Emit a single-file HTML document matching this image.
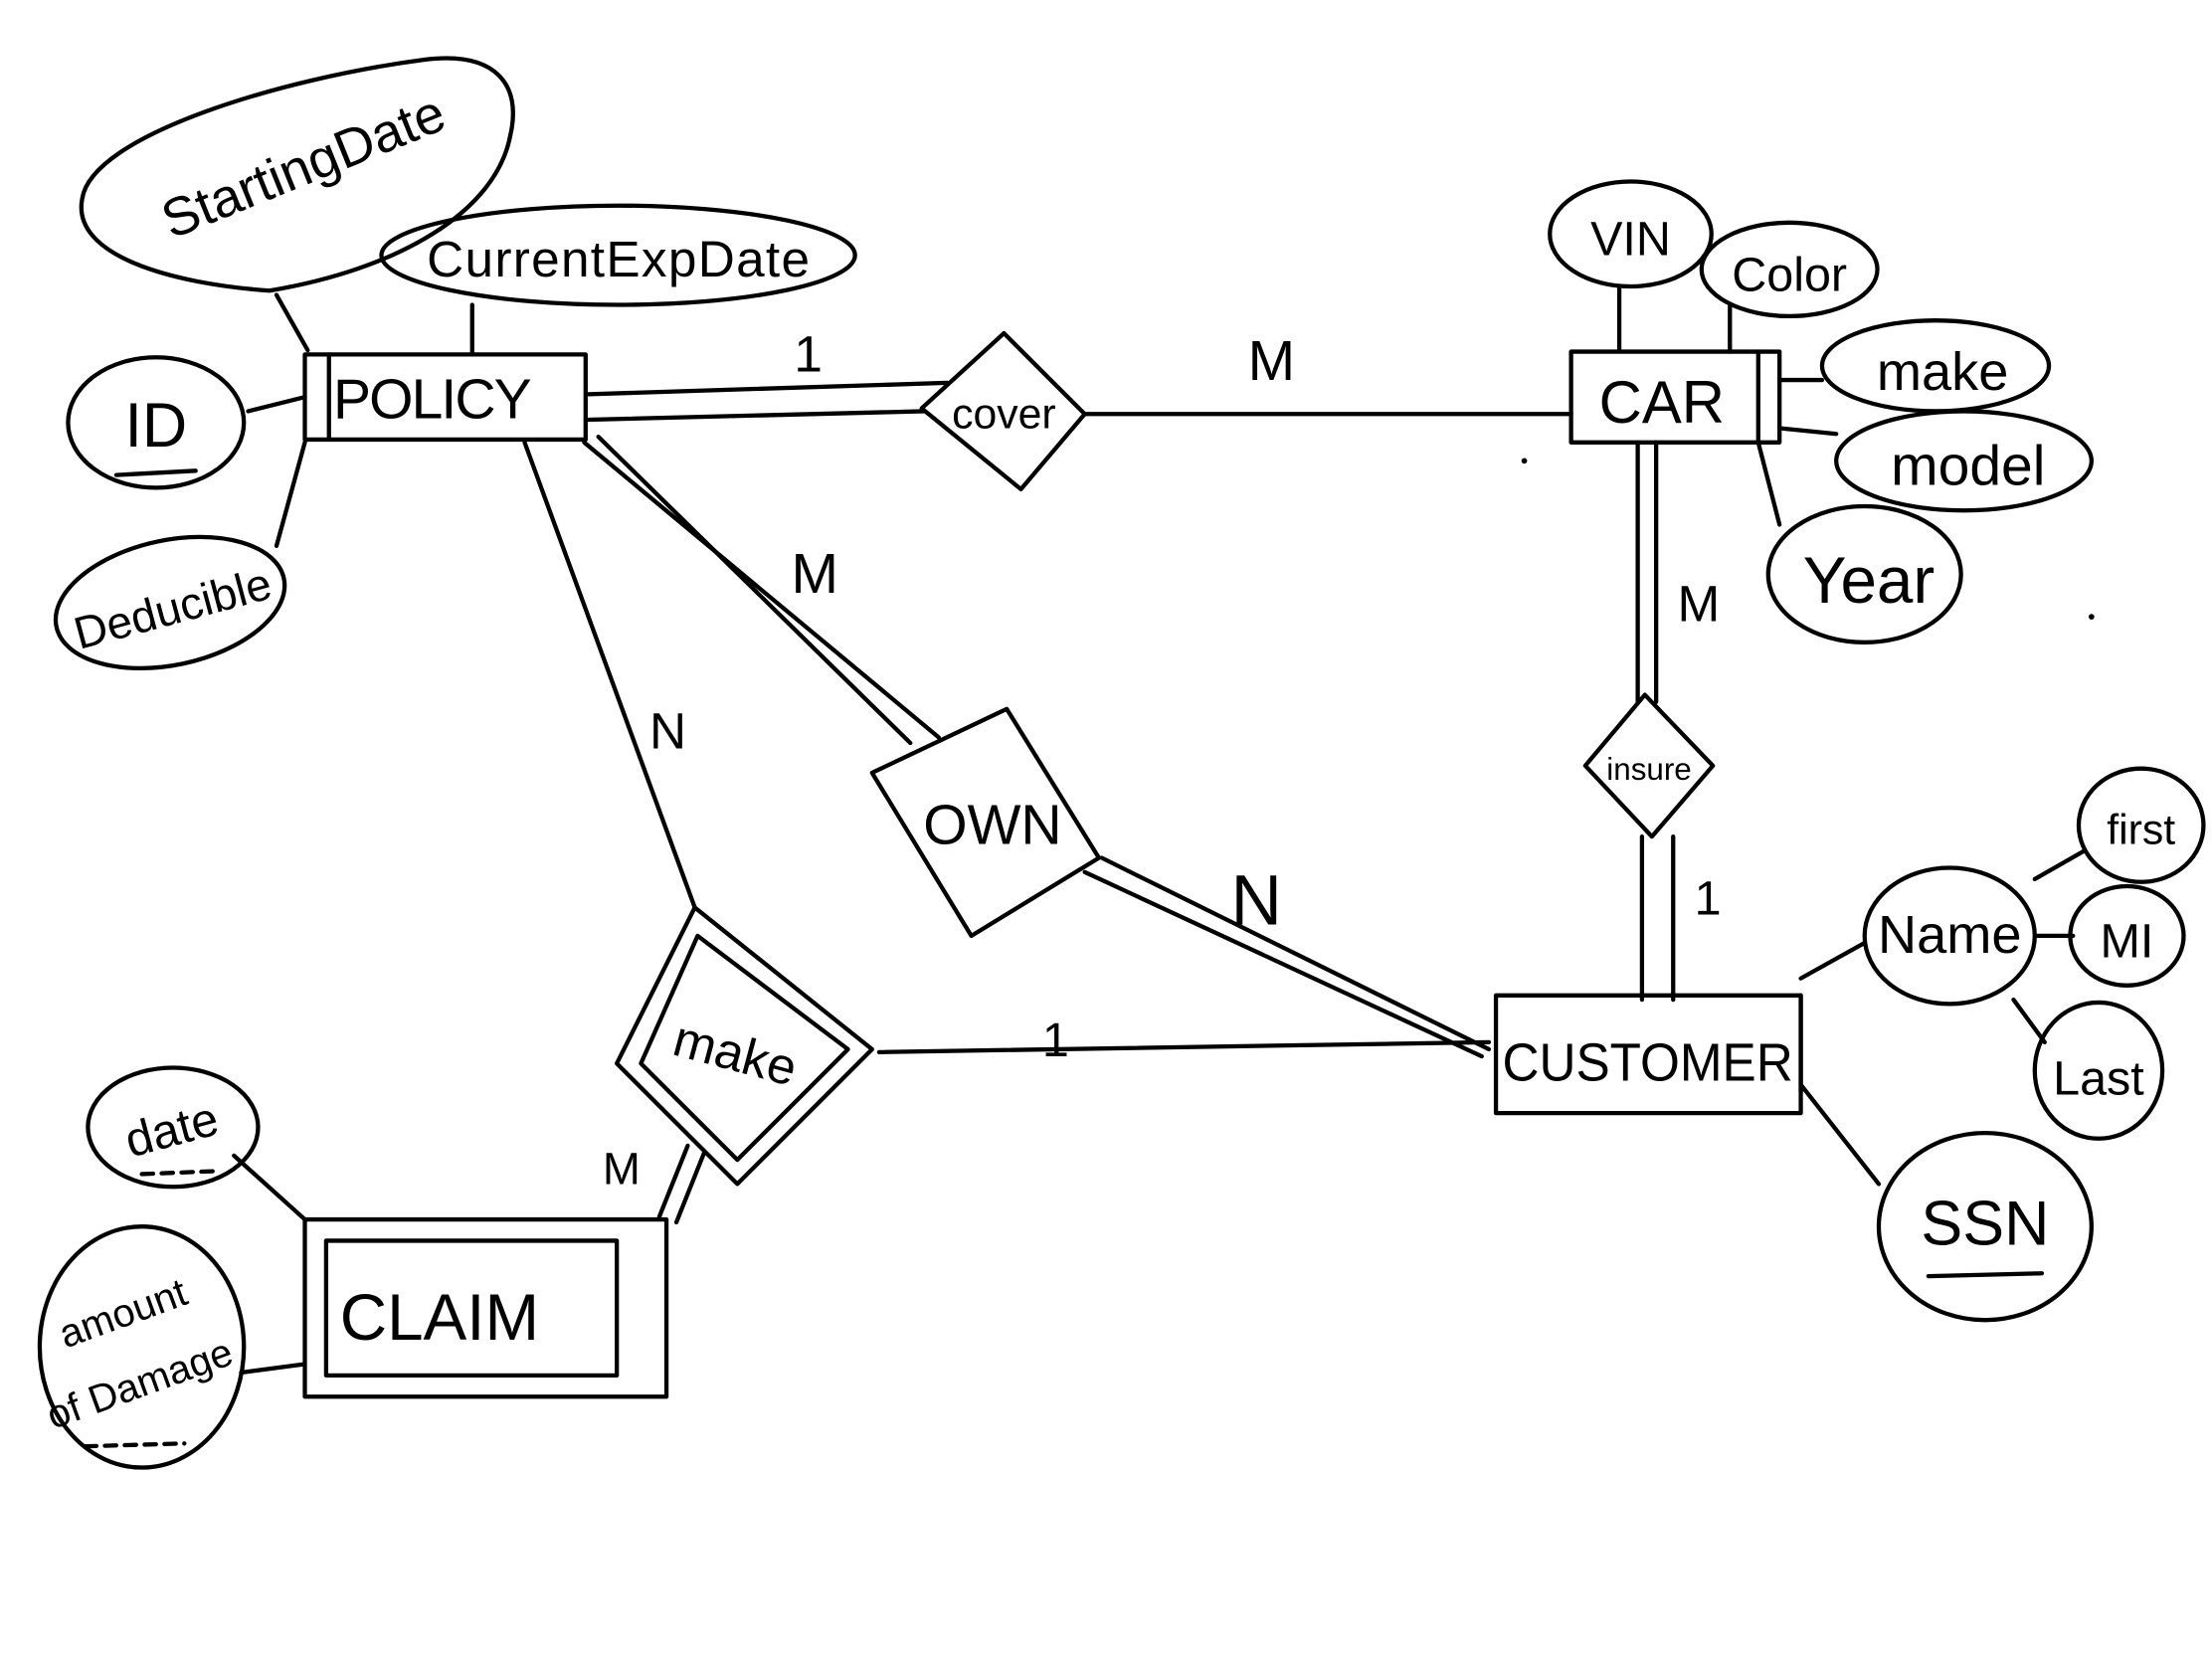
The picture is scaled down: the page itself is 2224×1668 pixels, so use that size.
<!DOCTYPE html>
<html><head><meta charset="utf-8"><style>
html,body{margin:0;padding:0;background:#fff}
svg{display:block}
text{font-family:"Liberation Sans",sans-serif;fill:#000}
</style></head><body>
<svg width="2224" height="1668" viewBox="0 0 1560 1170" xmlns="http://www.w3.org/2000/svg">
<g fill="none" stroke="#000" stroke-width="3" stroke-linecap="round" stroke-linejoin="round">
<path d="M190,205 C120,200 50,180 58,140 C65,95 200,55 300,42 C350,36 368,60 360,95 C350,150 280,190 190,205 Z"/>
<ellipse cx="436" cy="180" rx="167" ry="35"/>
<rect x="215" y="250" width="198" height="60"/>
<line x1="232" y1="250" x2="232" y2="310"/>
<ellipse cx="110" cy="298" rx="62" ry="46"/>
<ellipse cx="120" cy="425" rx="82" ry="44" transform="rotate(-12 120 425)"/>
<line x1="175" y1="290" x2="215" y2="280"/>
<line x1="195" y1="385" x2="215" y2="312"/>
<line x1="195" y1="208" x2="217" y2="247"/>
<line x1="333" y1="215" x2="333" y2="250"/>
<polygon points="708,235 765,292 720,345 650,288"/>
<line x1="415" y1="278" x2="668" y2="270"/>
<line x1="415" y1="296" x2="652" y2="290"/>
<line x1="765" y1="292" x2="1108" y2="292"/>
<rect x="1108" y="248" width="147" height="64"/>
<line x1="1240" y1="248" x2="1240" y2="312"/>
<ellipse cx="1150" cy="165" rx="57" ry="37"/>
<ellipse cx="1262" cy="190" rx="62" ry="33"/>
<ellipse cx="1365" cy="258" rx="80" ry="32"/>
<ellipse cx="1385" cy="325" rx="90" ry="35"/>
<ellipse cx="1315" cy="405" rx="68" ry="48"/>
<line x1="1142" y1="203" x2="1142" y2="246"/>
<line x1="1220" y1="216" x2="1220" y2="248"/>
<line x1="1255" y1="268" x2="1285" y2="268"/>
<line x1="1255" y1="302" x2="1295" y2="306"/>
<line x1="1240" y1="312" x2="1255" y2="370"/>
<line x1="1155" y1="312" x2="1155" y2="495"/>
<line x1="1168" y1="312" x2="1168" y2="495"/>
<polygon points="1160,490 1208,540 1165,590 1118,540"/>
<line x1="1158" y1="590" x2="1158" y2="705"/>
<line x1="1180" y1="590" x2="1180" y2="705"/>
<rect x="1055" y="702" width="215" height="83"/>
<line x1="1270" y1="702" x2="1270" y2="770"/>
<ellipse cx="1375" cy="660" rx="60" ry="48"/>
<ellipse cx="1510" cy="582" rx="44" ry="40"/>
<ellipse cx="1500" cy="660" rx="40" ry="35"/>
<ellipse cx="1480" cy="755" rx="45" ry="48"/>
<ellipse cx="1400" cy="865" rx="75" ry="66"/>
<line x1="1270" y1="690" x2="1315" y2="665"/>
<line x1="1435" y1="620" x2="1470" y2="600"/>
<line x1="1437" y1="660" x2="1462" y2="660"/>
<line x1="1420" y1="705" x2="1442" y2="735"/>
<line x1="1270" y1="765" x2="1325" y2="835"/>
<polygon points="615,545 710,500 775,605 685,660"/>
<line x1="412" y1="312" x2="662" y2="520"/>
<line x1="422" y1="308" x2="642" y2="524"/>
<line x1="765" y1="615" x2="1045" y2="745"/>
<line x1="777" y1="605" x2="1050" y2="740"/>
<line x1="370" y1="312" x2="490" y2="640"/>
<polygon points="490,640 615,740 520,835 435,750"/>
<polygon points="492,660 598,740 520,818 452,750"/>
<line x1="620" y1="742" x2="1050" y2="735"/>
<line x1="465" y1="858" x2="485" y2="808"/>
<line x1="477" y1="862" x2="497" y2="812"/>
<rect x="215" y="860" width="255" height="125"/>
<rect x="230" y="875" width="205" height="95"/>
<ellipse cx="122" cy="795" rx="60" ry="42"/>
<line x1="165" y1="815" x2="215" y2="860"/>
<ellipse cx="100" cy="950" rx="72" ry="85"/>
<line x1="170" y1="968" x2="215" y2="962"/>
<line x1="82" y1="335" x2="138" y2="332"/>
<line x1="1360" y1="900" x2="1440" y2="898"/>
<line x1="100" y1="828" x2="150" y2="826" stroke-dasharray="8 6"/>
<line x1="60" y1="1020" x2="130" y2="1018" stroke-dasharray="8 6"/>
</g>
<circle cx="1075" cy="325" r="2" fill="#000"/>
<circle cx="1475" cy="435" r="2" fill="#000"/>
<g font-size="34">
<text x="215" y="130" transform="rotate(-22 215 120)" text-anchor="middle" font-size="38">StartingDate</text>
<text x="436" y="195" text-anchor="middle" font-size="36" textLength="270">CurrentExpDate</text>
<text x="305" y="295" text-anchor="middle" font-size="40" textLength="140">POLICY</text>
<text x="110" y="315" text-anchor="middle" font-size="44">ID</text>
<text x="122" y="440" text-anchor="middle" font-size="32" transform="rotate(-15 122 430)">Deducible</text>
<text x="708" y="302" text-anchor="middle" font-size="30">cover</text>
<text x="1172" y="298" text-anchor="middle" font-size="42">CAR</text>
<text x="1150" y="180" text-anchor="middle" font-size="34">VIN</text>
<text x="1262" y="205" text-anchor="middle" font-size="34">Color</text>
<text x="1370" y="275" text-anchor="middle" font-size="38">make</text>
<text x="1388" y="342" text-anchor="middle" font-size="40">model</text>
<text x="1318" y="425" text-anchor="middle" font-size="46">Year</text>
<text x="1163" y="550" text-anchor="middle" font-size="22">insure</text>
<text x="1162" y="762" text-anchor="middle" font-size="38" textLength="205" lengthAdjust="spacingAndGlyphs">CUSTOMER</text>
<text x="1375" y="672" text-anchor="middle" font-size="38">Name</text>
<text x="1510" y="595" text-anchor="middle" font-size="30">first</text>
<text x="1500" y="675" text-anchor="middle" font-size="34">MI</text>
<text x="1480" y="772" text-anchor="middle" font-size="34">Last</text>
<text x="1400" y="878" text-anchor="middle" font-size="44">SSN</text>
<text x="700" y="595" text-anchor="middle" font-size="40">OWN</text>
<text x="518" y="755" text-anchor="middle" font-size="36" transform="rotate(15 518 745)">make</text>
<text x="310" y="945" text-anchor="middle" font-size="46">CLAIM</text>
<text x="122" y="808" text-anchor="middle" font-size="34" transform="rotate(-15 122 800)">date</text>
<text x="90" y="935" text-anchor="middle" font-size="28" transform="rotate(-20 90 935)">amount</text>
<text x="100" y="985" text-anchor="middle" font-size="28" transform="rotate(-20 100 980)">of Damage</text>
<text x="560" y="262" font-size="36">1</text>
<text x="880" y="268" font-size="40">M</text>
<text x="558" y="418" font-size="40">M</text>
<text x="458" y="528" font-size="36">N</text>
<text x="868" y="652" font-size="50">N</text>
<text x="735" y="745" font-size="34">1</text>
<text x="425" y="835" font-size="32">M</text>
<text x="1183" y="438" font-size="36">M</text>
<text x="1195" y="645" font-size="34">1</text>
</g>
</svg>
</body></html>
